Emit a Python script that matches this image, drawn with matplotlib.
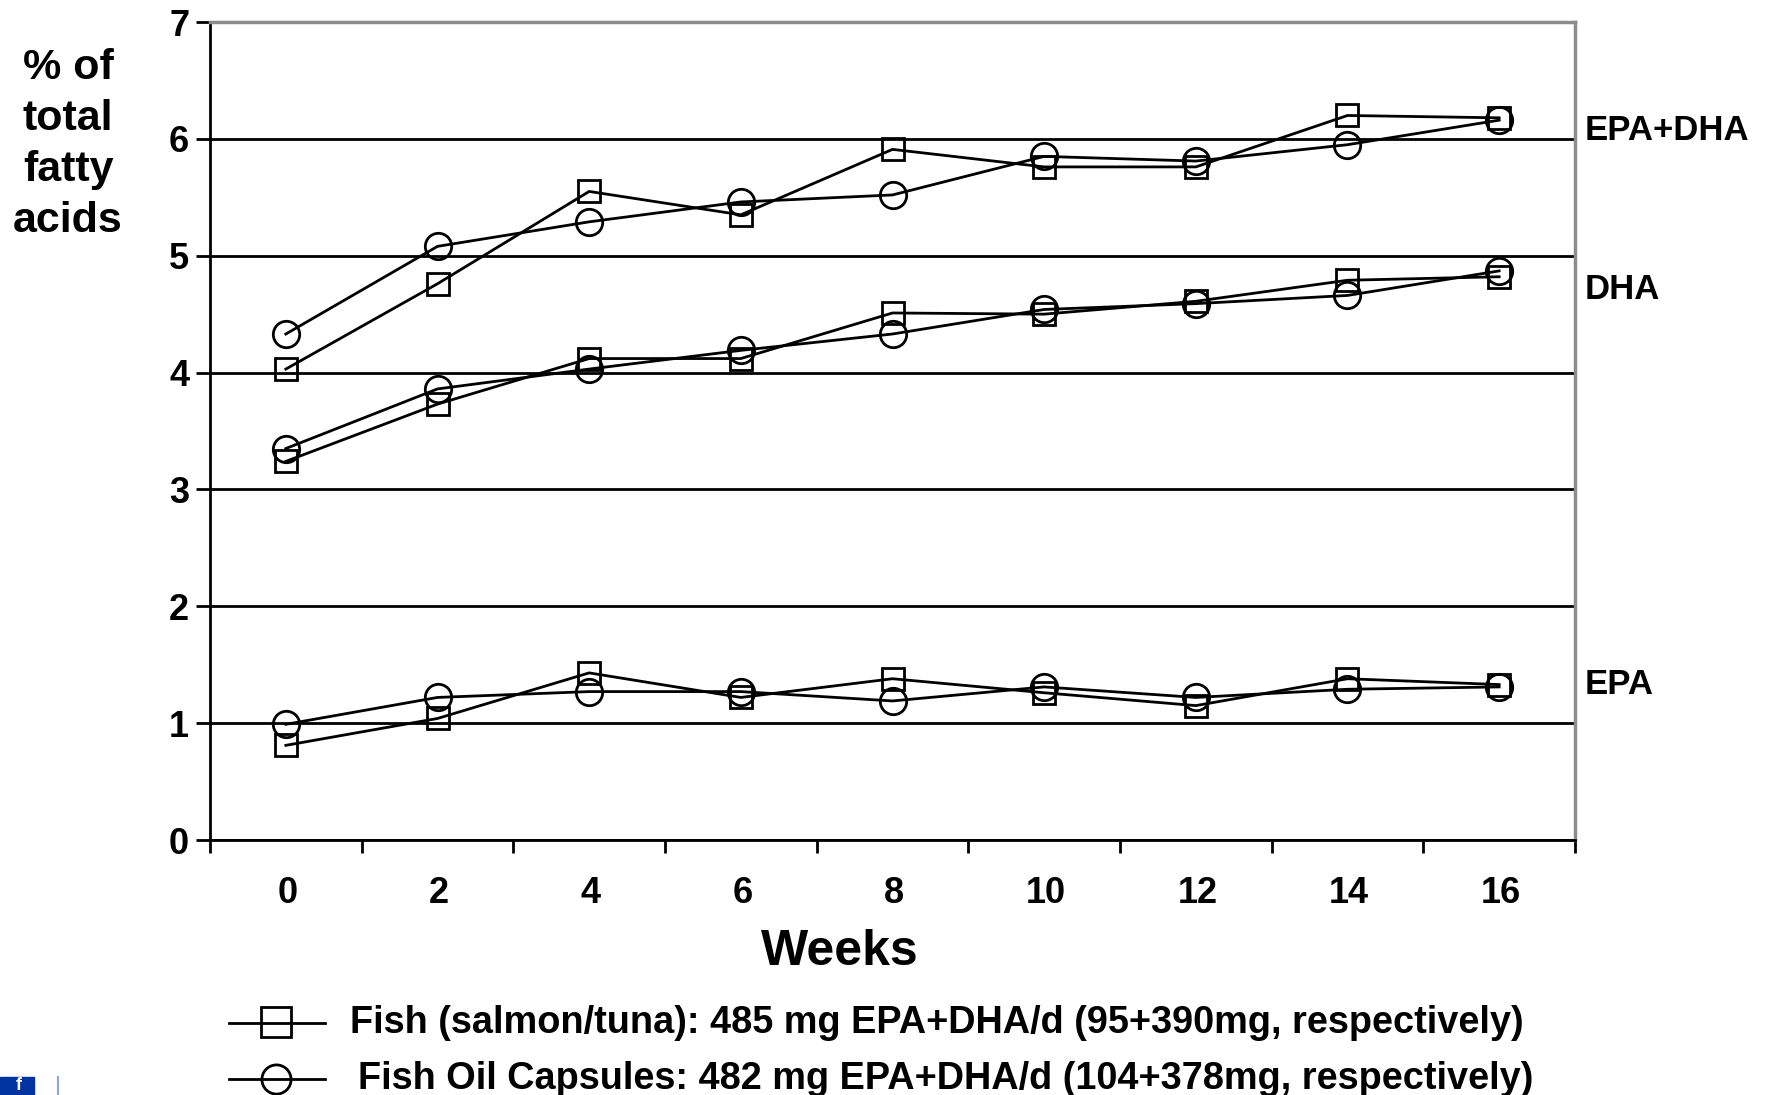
import matplotlib
matplotlib.use("Agg")
import matplotlib.pyplot as plt
from matplotlib.lines import Line2D
from matplotlib.patches import Rectangle

W, H = 1766, 1095

weeks = ["0", "2", "4", "6", "8", "10", "12", "14", "16"]
y_ticks = [0, 1, 2, 3, 4, 5, 6, 7]

total_fish = [4.03, 4.76, 5.55, 5.35, 5.91, 5.76, 5.76, 6.20, 6.18]
total_oil = [4.33, 5.08, 5.29, 5.46, 5.52, 5.85, 5.81, 5.95, 6.16]
dha_fish = [3.24, 3.73, 4.12, 4.12, 4.51, 4.50, 4.61, 4.79, 4.82]
dha_oil = [3.35, 3.86, 4.03, 4.19, 4.33, 4.54, 4.59, 4.66, 4.87]
epa_fish = [0.81, 1.04, 1.43, 1.22, 1.38, 1.26, 1.15, 1.38, 1.33]
epa_oil = [0.99, 1.22, 1.27, 1.27, 1.19, 1.31, 1.22, 1.29, 1.31]

series_labels = {"EPA+DHA": 130, "DHA": 289, "EPA": 685}
legend_fish = "Fish (salmon/tuna): 485 mg EPA+DHA/d (95+390mg, respectively)"
legend_oil = "Fish Oil Capsules: 482 mg EPA+DHA/d (104+378mg, respectively)"

plt.rcParams["font.family"] = ["Liberation Sans", "DejaVu Sans"]
plt.rcParams["font.weight"] = "bold"


def fx(px):
    return px / W


def fy(py):
    return 1 - py / H


fig = plt.figure(figsize=(W / 100, H / 100), dpi=100)
ax = fig.add_axes([fx(210), fy(840), (1575 - 210) / W, (840 - 22) / H])

x = list(range(len(weeks)))
ax.set_xlim(-0.5, 8.5)
ax.set_ylim(0, 7)
ax.set_yticks(y_ticks)
ax.set_xticks([i - 0.5 for i in range(len(weeks) + 1)])
ax.set_xticklabels([])
ax.tick_params(axis="y", length=10, width=2, labelsize=26, pad=5, left=True)
ax.tick_params(axis="x", length=9, width=2)
for lab in ax.get_yticklabels():
    lab.set_fontweight("bold")

ax.grid(axis="y", color="black", lw=2)
ax.set_axisbelow(True)
ax.spines["left"].set_linewidth(2)
ax.spines["bottom"].set_linewidth(2)
for side in ["top", "right"]:
    ax.spines[side].set_color("#8c8c8c")
    ax.spines[side].set_linewidth(2.5)

for i, w in enumerate(weeks):
    ax.text(i + 0.01, -0.0655, w, transform=ax.get_xaxis_transform(), ha="center",
            va="center", fontsize=26, fontweight="bold")

for vals in [total_fish, dha_fish, epa_fish]:
    ax.plot(x, vals, color="black", lw=2, marker="s", ms=16, mfc="none", mew=2, clip_on=False)
for vals in [total_oil, dha_oil, epa_oil]:
    ax.plot(x, vals, color="black", lw=2, marker="o", ms=19, mfc="none", mew=2, clip_on=False)

# text placed by hand, same spots as the slide
for name, py in series_labels.items():
    fig.text(fx(1585), fy(py), name, fontsize=25, fontweight="bold", va="center")

for py, t in zip([68, 119, 170, 221], ["% of", "total", "fatty", "acids"]):
    fig.text(fx(68), fy(py), t, fontsize=31, fontweight="bold", ha="center", va="center")

fig.text(fx(840), fy(952), "Weeks", fontsize=36, fontweight="bold", ha="center", va="center")

fig.add_artist(Line2D([fx(229), fx(325)], [fy(1023), fy(1023)], color="black", lw=2))
fig.add_artist(Line2D([fx(276)], [fy(1022)], color="black", marker="s", ms=21, mfc="none", mew=2))
fig.add_artist(Line2D([fx(229), fx(325)], [fy(1079), fy(1079)], color="black", lw=2))
fig.add_artist(Line2D([fx(276)], [fy(1079)], color="black", marker="o", ms=21, mfc="none", mew=2))
fig.text(fx(350), fy(1023), legend_fish, fontsize=27.25, fontweight="bold", va="center")
fig.text(fx(358), fy(1079), legend_oil, fontsize=27.25, fontweight="bold", va="center")

# cut-off icon in the corner
fig.add_artist(Rectangle((0, 0), fx(34), 18 / H, transform=fig.transFigure, color="#0033a0"))
fig.add_artist(Line2D([fx(58), fx(58)], [0, 18 / H], color="#8ea6d8", lw=1.5))
fig.text(fx(19), fy(1086), "f", color="white", fontsize=13, fontweight="bold", ha="center", va="center")

fig.savefig("out.png", dpi=100)
plt.close(fig)
